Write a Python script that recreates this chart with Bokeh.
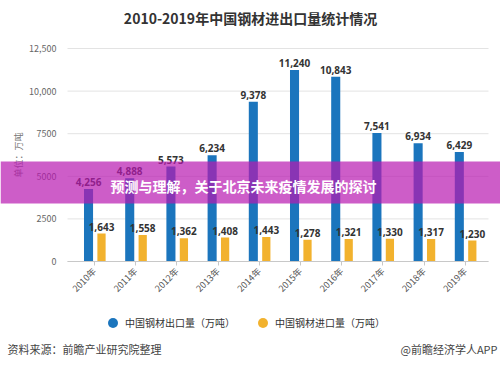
import math
from bokeh.plotting import figure
from bokeh.models import (ColumnDataSource, Range1d, FixedTicker, LabelSet, Label,
                          BoxAnnotation, Legend, LegendItem, LinearAxis)
from bokeh.core.properties import value
from bokeh.embed import file_html
from bokeh.resources import INLINE

years = ["2010年", "2011年", "2012年", "2013年", "2014年", "2015年", "2016年", "2017年", "2018年", "2019年"]
exports = [4256, 4888, 5573, 6234, 9378, 11240, 10843, 7541, 6934, 6429]
imports = [1643, 1558, 1362, 1408, 1443, 1278, 1321, 1330, 1317, 1230]
y_ticks = [0, 2500, 5000, 7500, 10000, 12500]
y_tick_labels = ["0", "2500", "5000", "7500", "10,000", "12,500"]
title_text = "2010-2019年中国钢材进出口量统计情况"
banner_text = "预测与理解，关于北京未来疫情发展的探讨"
source_text = "资料来源：前瞻产业研究院整理"
credit_text = "@前瞻经济学人APP"
export_name = "中国钢材出口量（万吨）"
import_name = "中国钢材进口量（万吨）"

CJK = "Noto Sans CJK SC"
BLUE = "#1b75bd"
ORANGE = "#f2b22e"

# layout (pixels on the canvas)
W, H = 500, 366
PX0, STEP = 94.0, 41.2          # pixel of first category centre, category spacing
PY0, PY_TOP = 261.0, 48.0       # pixel of value 0 and of value 12500
YMAX = 12500
ppv = (PY0 - PY_TOP) / YMAX     # pixels per value unit
x_lo, x_hi = -PX0 / STEP, (W - PX0) / STEP
y_lo, y_hi = -(H - PY0) / ppv, PY0 / ppv
gx0, gx1 = (67 - PX0) / STEP, (488 - PX0) / STEP

idx = list(range(len(years)))
src = ColumnDataSource(dict(
    xe=[i - 0.145 for i in idx], xi=[i + 0.17 for i in idx],
    exp=exports, imp=imports,
    exp_lab=[f"{v:,}" for v in exports], imp_lab=[f"{v:,}" for v in imports],
))

p = figure(width=W, height=H, output_backend="svg", toolbar_location=None,
           x_range=Range1d(x_lo, x_hi), y_range=Range1d(y_lo, y_hi),
           x_axis_type=None, y_axis_type=None,
           min_border=0, min_border_left=0, min_border_right=0,
           min_border_top=0, min_border_bottom=0)
p.outline_line_color = None
p.background_fill_color = "white"
p.border_fill_color = "white"
p.xgrid.visible = False
p.ygrid.visible = False

# horizontal grid lines at the y ticks
p.segment(x0=[gx0] * len(y_ticks), x1=[gx1] * len(y_ticks), y0=y_ticks, y1=y_ticks,
          line_color="#e3e3e3", line_width=1)

# y axis (fixed inside the full-canvas frame)
ya = LinearAxis(fixed_location=gx0, bounds=(0, YMAX), ticker=FixedTicker(ticks=y_ticks))
ya.major_label_overrides = {t: l for t, l in zip(y_ticks, y_tick_labels)}
ya.axis_line_color = None
ya.major_tick_line_color = None
ya.minor_tick_line_color = None
ya.major_label_standoff = 5
ya.major_label_text_font = CJK
ya.major_label_text_font_size = "9px"
ya.major_label_text_color = "#666666"
ya.axis_label = "单位：万吨"
ya.axis_label_text_font = CJK
ya.axis_label_text_font_size = "9px"
ya.axis_label_text_font_style = "normal"
ya.axis_label_text_color = "#777777"
ya.axis_label_standoff = 1
p.add_layout(ya, "left")

xa = LinearAxis(fixed_location=0, bounds=(gx0, gx1), ticker=FixedTicker(ticks=idx))
xa.major_label_overrides = {i: y for i, y in zip(idx, years)}
xa.axis_line_color = "#c8c8c8"
xa.major_tick_line_color = "#c8c8c8"
xa.major_tick_out = 4
xa.major_tick_in = 0
xa.minor_tick_line_color = None
xa.major_label_orientation = math.pi / 4
xa.major_label_text_font = CJK
xa.major_label_text_font_size = "9px"
xa.major_label_text_color = "#555555"
xa.major_label_standoff = 4
p.add_layout(xa, "below")

# bars
r_exp = p.vbar(x="xe", top="exp", width=0.22, source=src, fill_color=BLUE, line_color=None)
r_imp = p.vbar(x="xi", top="imp", width=0.2, source=src, fill_color=ORANGE, line_color=None)

for xcol, ycol, lcol in (("xe", "exp", "exp_lab"), ("xi", "imp", "imp_lab")):
    p.add_layout(LabelSet(x=xcol, y=ycol, text=lcol, source=src, y_offset=3,
                          text_align="center", text_baseline="bottom",
                          text_font=value("Noto Sans"), text_font_size="10px",
                          text_font_style="bold", text_color="#333333"))

# legend (circle markers, below the chart); marker renderers hold one non-drawn point
nan = float("nan")
le = p.scatter(x=[nan], y=[nan], marker="circle", size=11, fill_color=BLUE, line_color=None)
li = p.scatter(x=[nan], y=[nan], marker="circle", size=11, fill_color=ORANGE, line_color=None)
legend = Legend(items=[LegendItem(label=export_name, renderers=[le], index=0),
                       LegendItem(label=import_name, renderers=[li], index=0)],
                location=(100, H - 322 - 12.5), orientation="horizontal",
                glyph_width=25, glyph_height=25, label_standoff=0, spacing=15,
                padding=0, margin=0, border_line_color=None, background_fill_alpha=0,
                label_text_font=CJK, label_text_font_size="10px", label_text_color="#333333",
                label_height=12)
p.add_layout(legend, "center")

# title
p.add_layout(Label(x=250, y=H - 17, x_units="screen", y_units="screen", text=title_text,
                   text_align="center", text_baseline="middle", text_font=CJK,
                   text_font_size="14px", text_font_style="bold", text_color="#333333"))

# footer
p.add_layout(Label(x=7, y=H - 348, x_units="screen", y_units="screen", text=source_text,
                   text_align="left", text_baseline="middle", text_font=CJK,
                   text_font_size="11px", text_color="#444444"))
p.add_layout(Label(x=497, y=H - 348, x_units="screen", y_units="screen", text=credit_text,
                   text_align="right", text_baseline="middle", text_font=CJK,
                   text_font_size="11px", text_color="#444444"))

# overlay banner
p.add_layout(BoxAnnotation(left=0, right=W, left_units="screen", right_units="screen",
                           bottom=H - 203, top=H - 161, bottom_units="screen", top_units="screen",
                           fill_color="#b818b0", fill_alpha=0.7,
                           line_color=None, level="overlay"))
p.add_layout(Label(x=110, y=H - 185, x_units="screen", y_units="screen", text=banner_text,
                   text_align="left", text_baseline="middle", text_font=CJK,
                   text_font_size="14px", text_font_style="bold", text_color="white",
                   level="overlay"))

open("out.html", "w").write(file_html(p, INLINE))
